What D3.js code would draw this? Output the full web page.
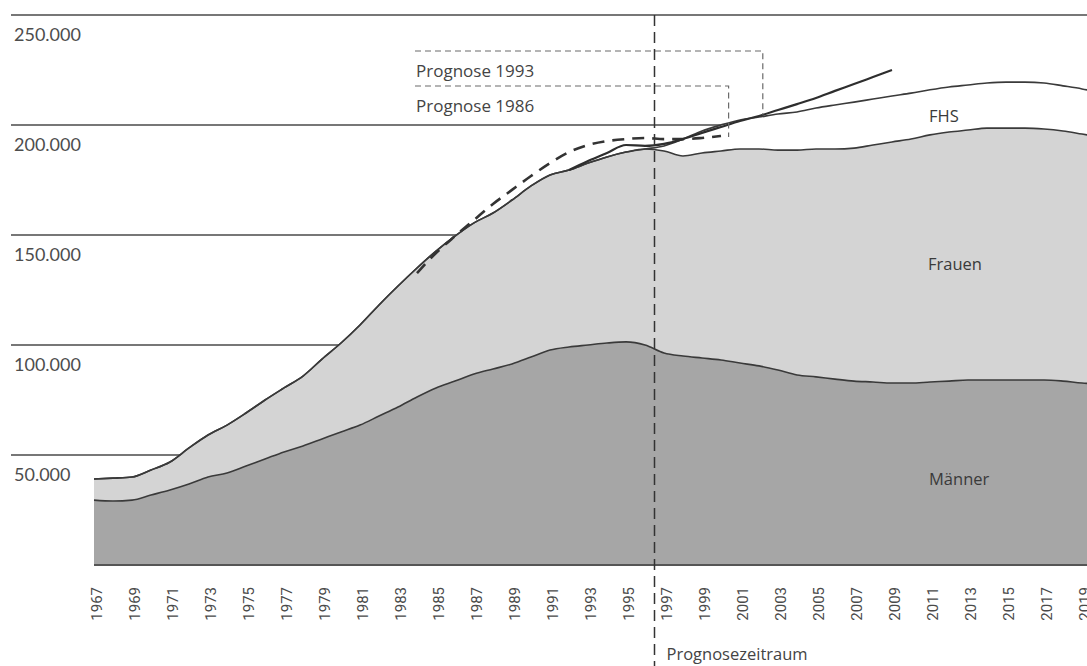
<!DOCTYPE html>
<html>
<head>
<meta charset="utf-8">
<script src="https://cdn.jsdelivr.net/npm/d3@7"></script>
<style>
  html, body { margin: 0; padding: 0; background: #fff; }
  svg { display: block; }
</style>
</head>
<body>
<svg id="chart" width="1087" height="666"></svg>
<script>
// ---------- DATA ----------
const years = [1967,1968,1969,1970,1971,1972,1973,1974,1975,1976,1977,1978,1979,1980,
  1981,1982,1983,1984,1985,1986,1987,1988,1989,1990,1991,1992,1993,1994,1995,1996,
  1997,1998,1999,2000,2001,2002,2003,2004,2005,2006,2007,2008,2009,2010,2011,2012,
  2013,2014,2015,2016,2017,2018,2019,2020];

const maenner = [29500,29100,29500,31800,34100,36800,40000,41800,45000,48200,51400,54100,57300,60500,
  63600,67700,71800,76400,80500,83600,86800,89100,91400,94500,97700,99100,100000,100900,101400,100000,
  96400,95000,94100,93200,91800,90500,88600,86400,85500,84500,83600,83200,82700,82700,83200,83600,
  84100,84100,84100,84100,84100,83600,82700,82300];

const frauen = [9600,10400,10500,11400,12700,16400,19100,21800,24100,26800,29100,31800,36300,40400,
  45500,50500,55000,58600,62200,65900,68700,70900,74500,77800,79600,80400,82700,84600,86300,89100,
  91800,90900,93200,95000,97300,98600,100000,102200,103600,104600,105900,107700,109600,110900,112300,113200,
  113600,114500,114500,114500,114100,113700,113200,112200];

const fhs = [0,0,0,0,0,0,0,0,0,0,0,0,0,0,
  0,0,0,0,0,0,0,0,0,0,0,0,0,0,0,0,
  2300,7700,10000,11800,13200,14500,16400,17300,18600,20000,20900,20900,20900,20900,20500,20500,
  20500,20500,20900,20900,20900,20500,20500,20000];

const prog1993Years = [1992,1993,1994,1995,1996,1997,1998,1999,2000,2001,2002,2003,2004,2005,2006,2007,2008,2009];
const prog1993 = [179500,183600,187300,190900,190500,191400,193600,196400,199100,201800,204100,206800,209500,212300,215500,218600,221800,225000];

const prog1986Years = [1984,1985,1986,1987,1988,1989,1990,1991,1992,1993,1994,1995,1996,1997,1998,1999,2000];
const prog1986 = [132700,141800,149500,156800,164100,170500,176800,182700,187700,190900,192700,193600,194100,193600,193600,194100,195000];

const yTicks = [50000,100000,150000,200000,250000];
const yTickLabels = ["50.000","100.000","150.000","200.000","250.000"];
const xTickYears = [1967,1969,1971,1973,1975,1977,1979,1981,1983,1985,1987,1989,1991,1993,1995,
  1997,1999,2001,2003,2005,2007,2009,2011,2013,2015,2017,2019];

const seriesKeys = ["maenner","frauen","fhs"];
const seriesNames = ["Männer","Frauen","FHS"];
const forecastStart = 1996.5;
const labelP1993 = "Prognose 1993";
const labelP1986 = "Prognose 1986";
const labelZeitraum = "Prognosezeitraum";

// ---------- CHART ----------
const W = 1087, H = 666;
const svg = d3.select("#chart");

const x = d3.scaleLinear().domain([1967, 2020]).range([94, 94 + 53 * 19]);
const y = d3.scaleLinear().domain([0, 250000]).range([565, 15]);

const table = years.map((yr, i) => ({ year: yr, maenner: maenner[i], frauen: frauen[i], fhs: fhs[i] }));
const stacked = d3.stack().keys(seriesKeys)(table);

svg.append("defs").append("clipPath").attr("id", "clip")
  .append("rect").attr("x", 0).attr("y", 0).attr("width", W).attr("height", H);

// gridlines (behind areas)
const grid = svg.append("g");
grid.selectAll("line").data(yTicks).join("line")
  .attr("x1", 11).attr("x2", W)
  .attr("y1", d => y(d)).attr("y2", d => y(d))
  .attr("stroke", "#4a4a4a").attr("stroke-width", 1.5);
grid.selectAll("text").data(yTicks).join("text")
  .attr("x", 14).attr("y", d => y(d) + 26)
  .attr("font-family", "Lato, 'Open Sans', sans-serif")
  .attr("font-size", 18)
  .attr("fill", "#4d4d4d")
  .text((d, i) => yTickLabels[i]);

const plot = svg.append("g").attr("clip-path", "url(#clip)");
const fills = ["#a6a6a6", "#d4d4d4", "#ffffff"];

const area = d3.area().x(d => x(d.data.year)).y0(d => y(d[0])).y1(d => y(d[1])).curve(d3.curveMonotoneX);
const topLine = d3.line().x(d => x(d.data.year)).y(d => y(d[1])).curve(d3.curveMonotoneX);

plot.selectAll("path.area").data(stacked).join("path")
  .attr("class", "area")
  .attr("d", area)
  .attr("fill", (d, i) => fills[i]);

plot.selectAll("path.top").data(stacked).join("path")
  .attr("class", "top")
  .attr("d", topLine)
  .attr("fill", "none")
  .attr("stroke", "#3a3a3a")
  .attr("stroke-width", 1.6);

// baseline
plot.append("line")
  .attr("x1", x(1967)).attr("x2", W)
  .attr("y1", y(0)).attr("y2", y(0))
  .attr("stroke", "#555").attr("stroke-width", 2);

// forecast lines
const fLine = d3.line().x(d => x(d[0])).y(d => y(d[1])).curve(d3.curveMonotoneX);
plot.append("path")
  .attr("d", fLine(prog1986Years.map((yr, i) => [yr, prog1986[i]])))
  .attr("fill", "none").attr("stroke", "#333").attr("stroke-width", 2.6)
  .attr("stroke-dasharray", "12,8");
plot.append("path")
  .attr("d", fLine(prog1993Years.map((yr, i) => [yr, prog1993[i]])))
  .attr("fill", "none").attr("stroke", "#2e2e2e").attr("stroke-width", 2.2);

// label boxes (dashed leaders)
function interp(xs, vs, t) {
  for (let i = 0; i < xs.length - 1; i++) {
    if (t >= xs[i] && t <= xs[i + 1]) {
      const f = (t - xs[i]) / (xs[i + 1] - xs[i]);
      return vs[i] + f * (vs[i + 1] - vs[i]);
    }
  }
  return vs[vs.length - 1];
}
const boxLeft = 415;
const p93Top = 51, p86Top = 86;
const p93Right = x(2002.2), p86Right = x(2000.4);
const p93End = y(interp(prog1993Years, prog1993, 2002.2));
const p86End = y(prog1986[prog1986.length - 1]) + 1;

const leaders = svg.append("g").attr("fill", "none").attr("stroke", "#6a6a6a")
  .attr("stroke-width", 1.2).attr("stroke-dasharray", "6,4");
leaders.append("path").attr("d", `M${boxLeft},${p93Top}H${p93Right}V${p93End}`);
leaders.append("path").attr("d", `M${boxLeft},${p86Top}H${p86Right}V${p86End}`);

const txtFont = "'Open Sans', 'Noto Sans', sans-serif";
svg.append("text").attr("x", 416).attr("y", 77)
  .attr("font-family", txtFont).attr("font-size", 17).attr("fill", "#444").text(labelP1993);
svg.append("text").attr("x", 416).attr("y", 112)
  .attr("font-family", txtFont).attr("font-size", 17).attr("fill", "#444").text(labelP1986);

// vertical forecast divider
svg.append("line")
  .attr("x1", x(forecastStart)).attr("x2", x(forecastStart))
  .attr("y1", 15).attr("y2", H)
  .attr("stroke", "#333").attr("stroke-width", 1.5)
  .attr("stroke-dasharray", "11,6");

svg.append("text").attr("x", x(forecastStart) + 12).attr("y", 660)
  .attr("font-family", txtFont).attr("font-size", 16.5).attr("fill", "#444").text(labelZeitraum);

// area labels
const areaLabelPos = [[929, 485], [928, 270], [929, 122]];
svg.selectAll("text.alabel").data(seriesNames).join("text")
  .attr("class", "alabel")
  .attr("x", (d, i) => areaLabelPos[i][0]).attr("y", (d, i) => areaLabelPos[i][1])
  .attr("font-family", txtFont).attr("font-size", 16.5).attr("fill", "#3a3a3a")
  .text(d => d);

// x-axis tick labels (rotated)
svg.append("g").selectAll("text").data(xTickYears).join("text")
  .attr("transform", d => `translate(${x(d) + 3},587) rotate(-90)`)
  .attr("text-anchor", "end")
  .attr("dy", "0.35em")
  .attr("font-family", "Roboto, 'Liberation Sans', sans-serif")
  .attr("font-size", 15)
  .attr("fill", "#4a4a4a")
  .text(d => d);
</script>
</body>
</html>
